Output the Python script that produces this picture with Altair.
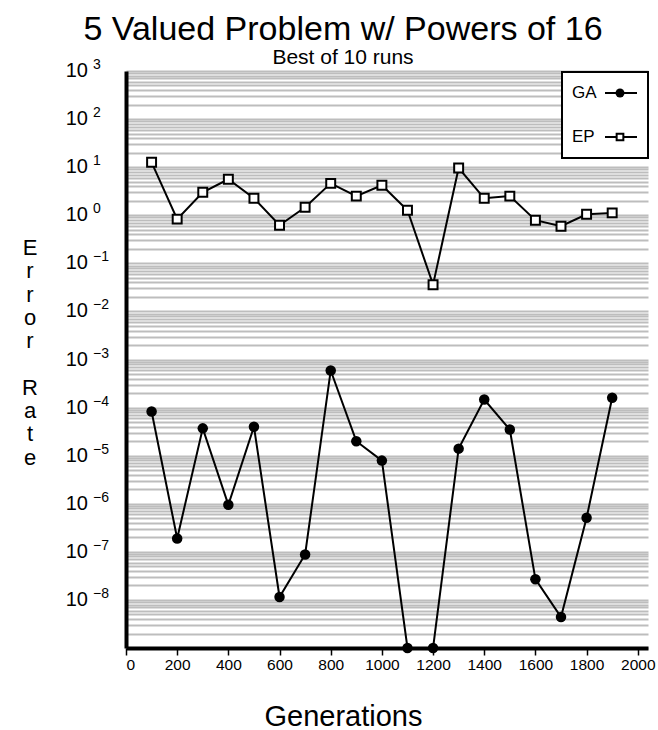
import altair as alt
import pandas as pd

FONT = "Liberation Sans"

# ---- data ----
generations = [100, 200, 300, 400, 500, 600, 700, 800, 900, 1000,
               1100, 1200, 1300, 1400, 1500, 1600, 1700, 1800, 1900]
ga_error = [8.3e-5, 1.9e-7, 3.7e-5, 9.5e-7, 4.0e-5, 1.15e-8, 8.8e-8, 5.9e-4, 2.0e-5, 7.9e-6,
            1e-9, 1e-9, 1.4e-5, 1.47e-4, 3.5e-5, 2.7e-8, 4.4e-9, 5.1e-7, 1.6e-4]
ep_error = [12.6, 0.83, 3.0, 5.6, 2.25, 0.62, 1.47, 4.6, 2.5, 4.2,
            1.27, 0.036, 9.6, 2.25, 2.5, 0.79, 0.59, 1.05, 1.12]

x_ticks = [0, 200, 400, 600, 800, 1000, 1200, 1400, 1600, 1800, 2000]
y_exponents = [3, 2, 1, 0, -1, -2, -3, -4, -5, -6, -7, -8]
minor_mults = [1, 2, 3, 4, 5, 6, 7, 8, 9]
decades = list(range(-9, 3))

title_text = "5 Valued Problem w/ Powers of 16"
subtitle_text = "Best of 10 runs"
x_title = "Generations"
y_title_words = ["Error", "Rate"]

# ---- tables ----
df = pd.DataFrame({"gen": generations, "GA": ga_error, "EP": ep_error})
grid_vals = [m * 10.0 ** k for k in decades for m in minor_mults] + [1000.0]
lab_df = pd.DataFrame({
    "v": [10.0 ** e for e in y_exponents],
    "exp": [str(e).replace("-", "\u2212") for e in y_exponents],
})
one = pd.DataFrame({"k": [0]})

xscale = alt.Scale(domain=[0, 2040], nice=False, zero=False)
yscale = alt.Scale(type="log", domain=[1e-9, 1e3], nice=False)

xaxis = alt.Axis(values=x_ticks, format="d", grid=False, domain=True, domainColor="black",
                 domainWidth=4, ticks=True, tickColor="black", tickWidth=1.5,
                 tickSize=7, labelFont=FONT, labelFontSize=15.5, labelColor="black",
                 labelPadding=2, title=x_title, titleFont=FONT, titleFontSize=29,
                 titleFontWeight="normal", titleColor="black", titleBaseline="top",
                 titleX=217, titleY=54, titleAnchor="start", titleAlign="center")
yaxis = alt.Axis(values=grid_vals, grid=True, gridColor="#bdbdbd", gridWidth=2.2,
                 domain=True, domainColor="black", domainWidth=4, ticks=False,
                 labels=False, title=None)

X = alt.X("gen:Q", scale=xscale, axis=xaxis)


def Yf(field):
    return alt.Y(f"{field}:Q", scale=yscale, axis=yaxis)


base = alt.Chart(df)
ep_line = base.mark_line(color="black", strokeWidth=2).encode(x=X, y=Yf("EP"))
ep_pts = base.mark_point(shape="square", filled=True, fill="white", stroke="black",
                         strokeWidth=2, size=80, opacity=1).encode(x=X, y=Yf("EP"))
ga_line = base.mark_line(color="black", strokeWidth=2).encode(x=X, y=Yf("GA"))
ga_pts = base.mark_circle(color="black", size=110, opacity=1).encode(x=X, y=Yf("GA"))

# y tick labels "10" with superscript exponents
lab_base = alt.Chart(lab_df)
lab_ten = lab_base.mark_text(text="10", font=FONT, fontSize=20, align="right",
                             baseline="middle", color="black").encode(
    x=alt.value(-38), y=alt.Y("v:Q", scale=yscale, axis=yaxis))
lab_exp = lab_base.mark_text(font=FONT, fontSize=14, align="left",
                             baseline="alphabetic", dy=-2, color="black").encode(
    x=alt.value(-33), y=alt.Y("v:Q", scale=yscale, axis=yaxis), text="exp:N")

# vertical stacked y title: one letter per line, a blank line between the words
LINE_H = 23.3
ytitle_layers = []
first_baseline = 184
for i, word in enumerate(y_title_words):
    start = first_baseline + LINE_H * (sum(len(w) + 1 for w in y_title_words[:i]))
    ytitle_layers.append(alt.Chart(one).mark_text(
        text=list(word), font=FONT, fontSize=22, lineHeight=LINE_H,
        align="center", baseline="alphabetic", color="black").encode(
        x=alt.value(-96), y=alt.value(start)))

# legend box
leg = alt.Chart(one)
leg_box = leg.mark_rect(fill="white", stroke="black", strokeWidth=2).encode(
    x=alt.value(436), x2=alt.value(522), y=alt.value(1), y2=alt.value(87))
leg_layers = [leg_box]
for name, ly, kind in [("GA", 22, "circle"), ("EP", 66, "square")]:
    leg_layers.append(leg.mark_text(text=name, font=FONT, fontSize=17, align="left",
                                    baseline="middle", color="black").encode(
        x=alt.value(446), y=alt.value(ly)))
    leg_layers.append(leg.mark_rule(color="black", strokeWidth=2).encode(
        x=alt.value(479), x2=alt.value(511), y=alt.value(ly)))
    if kind == "circle":
        leg_layers.append(leg.mark_point(shape="circle", filled=True, color="black",
                                         size=80, opacity=1).encode(
            x=alt.value(494), y=alt.value(ly)))
    else:
        leg_layers.append(leg.mark_point(shape="square", filled=True, fill="white",
                                         stroke="black", strokeWidth=2, size=45,
                                         opacity=1).encode(
            x=alt.value(494), y=alt.value(ly)))

chart = alt.layer(ep_line, ep_pts, ga_line, ga_pts, lab_ten, lab_exp, *ytitle_layers,
                  *leg_layers).properties(
    width=522, height=577,
    autosize=alt.AutoSizeParams(type="none"),
    padding={"left": 126, "top": 71, "right": 10, "bottom": 82},
    title=alt.TitleParams(text=title_text, subtitle=subtitle_text, anchor="middle",
                          font=FONT, fontSize=34, fontWeight="normal", color="black",
                          subtitleFont=FONT, subtitleFontSize=21, subtitleColor="black",
                          subtitlePadding=0, offset=-10, dx=-44),
).configure_view(stroke="transparent")

chart.save("out.html", embed_options={"renderer": "svg", "actions": False})
